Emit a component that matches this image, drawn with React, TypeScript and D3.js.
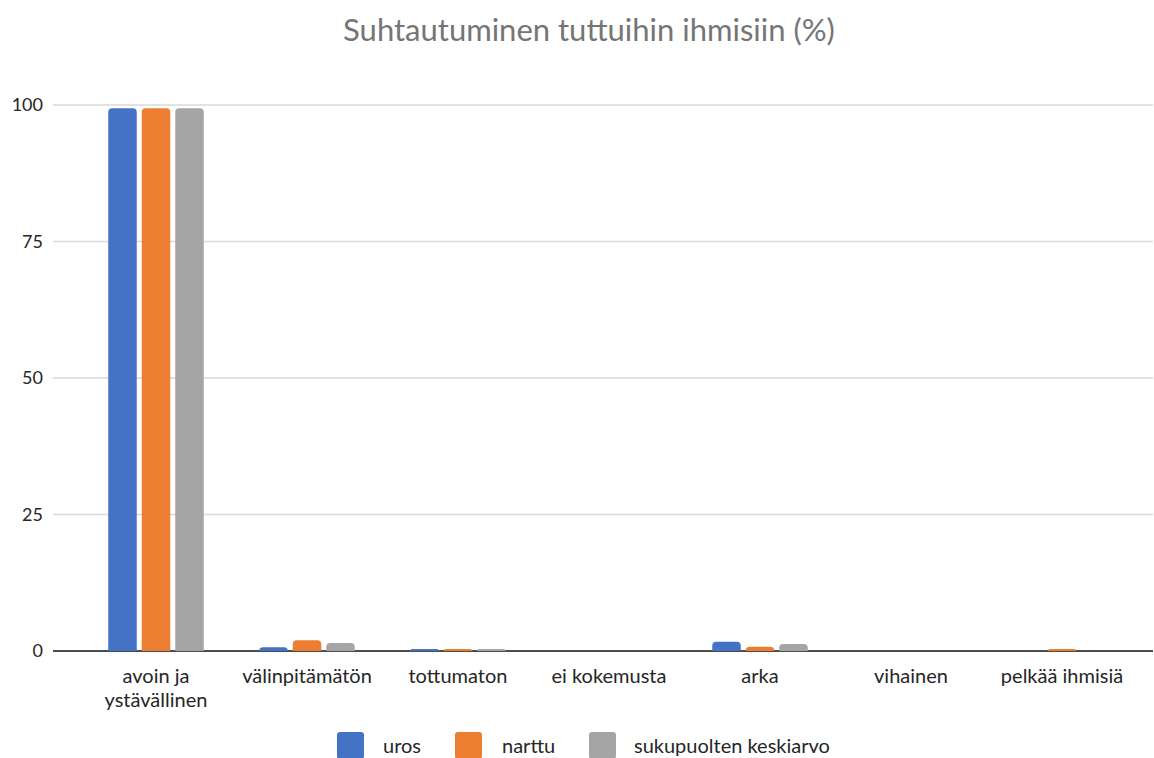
import React from "react";
import * as d3 from "d3";

const categories = [
  ["avoin ja", "ystävällinen"],
  ["välinpitämätön"],
  ["tottumaton"],
  ["ei kokemusta"],
  ["arka"],
  ["vihainen"],
  ["pelkää ihmisiä"],
];
const seriesNames = ["uros", "narttu", "sukupuolten keskiarvo"];
const seriesColors = ["#4472C4", "#ED7D31", "#A5A5A5"];
const uros = [99.2, 0.5, 0.2, 0, 1.5, 0, 0];
const narttu = [99.2, 1.8, 0.2, 0, 0.6, 0, 0.2];
const keskiarvo = [99.2, 1.3, 0.2, 0, 1.1, 0, 0];
const yTicks = [0, 25, 50, 75, 100];
const title = "Suhtautuminen tuttuihin ihmisiin (%)";

const W = 1154;
const H = 758;
const FONT = "Lato, 'Open Sans', sans-serif";

export default function App() {
  const series = [uros, narttu, keskiarvo];
  const keys = categories.map((c) => c.join(" "));
  const x0 = d3
    .scaleBand<string>()
    .domain(keys)
    .range([80.5, 1137.5])
    .paddingInner(0.3675)
    .paddingOuter(0.3675 / 2);
  const x1 = d3
    .scaleBand<string>()
    .domain(seriesNames)
    .range([0, x0.bandwidth()])
    .paddingInner(0.149);
  const y = d3.scaleLinear().domain([0, 100]).range([651, 105]);
  const gridX0 = 53;
  const gridX1 = 1153;

  const barPath = (x: number, w: number, v: number) => {
    const yt = y(v) - 1;
    const yb = y(0);
    const h = yb - yt;
    const r = Math.min(4, h, w / 2);
    if (h <= 0) return "";
    return `M${x},${yb} L${x},${yt + r} Q${x},${yt} ${x + r},${yt} L${x + w - r},${yt} Q${x + w},${yt} ${x + w},${yt + r} L${x + w},${yb} Z`;
  };

  return (
    <svg
      width={W}
      height={H}
      style={{ position: "absolute", left: 0, top: 0, background: "#fff" }}
      fontFamily={FONT}
    >
      <text x={589} y={41} textAnchor="middle" fontSize={31} fill="#757575">
        {title}
      </text>
      {yTicks.map((t) => (
        <g key={t}>
          {t !== 0 && (
            <line x1={gridX0} x2={gridX1} y1={y(t)} y2={y(t)} stroke="#D9D9D9" strokeWidth={1.5} />
          )}
          <text x={43} y={y(t)} dy="0.35em" textAnchor="end" fontSize={18} fill="#262626">
            {t}
          </text>
        </g>
      ))}
      <line x1={gridX0} x2={gridX1} y1={y(0)} y2={y(0)} stroke="#4D4D4D" strokeWidth={2} />
      {keys.map((k, i) => (
        <g key={k}>
          {series.map((s, j) => {
            const bx = (x0(k) as number) + (x1(seriesNames[j]) as number);
            const bw = x1.bandwidth();
            const v = s[i];
            if (v <= 0) return null;
            return <path key={j} d={barPath(bx, bw, v)} fill={seriesColors[j]} />;
          })}
          {categories[i].map((line, li) => (
            <text
              key={li}
              x={(x0(k) as number) + x0.bandwidth() / 2}
              y={683 + li * 24}
              textAnchor="middle"
              fontSize={20}
              fill="#262626"
            >
              {line}
            </text>
          ))}
        </g>
      ))}
      {(() => {
        const items = [
          { sx: 337, tx: 383 },
          { sx: 455, tx: 502 },
          { sx: 589, tx: 634 },
        ];
        return seriesNames.map((n, j) => (
          <g key={n}>
            <rect x={items[j].sx} y={732} width={27} height={27} rx={3} fill={seriesColors[j]} />
            <text x={items[j].tx} y={753} fontSize={20} fill="#262626">
              {n}
            </text>
          </g>
        ));
      })()}
    </svg>
  );
}
